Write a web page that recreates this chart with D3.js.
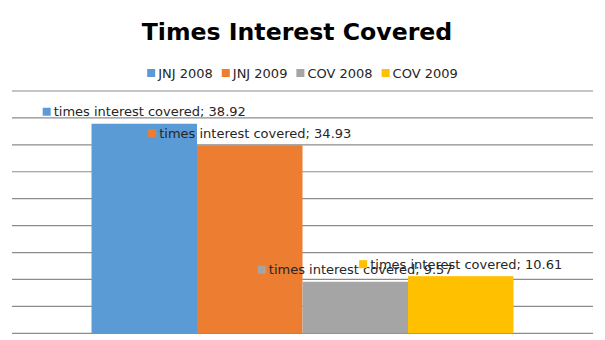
<!DOCTYPE html>
<html><head><meta charset="utf-8">
<script src="https://cdn.jsdelivr.net/npm/d3@7"></script>
<style>body{margin:0;background:#fff}svg{display:block}</style>
</head><body>
<script>
const seriesNames = ["JNJ 2008","JNJ 2009","COV 2008","COV 2009"];
const seriesColors = ["#5B9BD5","#ED7D31","#A5A5A5","#FFC000"];
const categories = ["times interest covered"];
const values = [38.92, 34.93, 9.57, 10.61];
const yTicks = [0,5,10,15,20,25,30,35,40,45];

(function(){
const W=605,H=340;
const svg=d3.select("body").append("svg").attr("width",W).attr("height",H);
const font="DejaVu Sans";
const pl=12,pr=593,pt=91,pb=333.3;

const y=d3.scaleLinear().domain([0,45]).range([pb,pt]);
const x0=d3.scaleBand().domain(categories).range([pl,pr]).paddingInner(0).paddingOuter(0.1884);
const x1=d3.scaleBand().domain(seriesNames).range([0,x0.bandwidth()]);

// gridlines
svg.append("g").selectAll("line").data(yTicks).join("line")
 .attr("x1",pl).attr("x2",pr).attr("y1",d=>y(d)).attr("y2",d=>y(d))
 .attr("stroke","#8c8c8c").attr("stroke-width",1.2);

// title
svg.append("text").attr("x",297).attr("y",40).attr("text-anchor","middle")
 .attr("font-family",font).attr("font-weight","bold").attr("font-size",23.6).attr("fill","#000")
 .text("Times Interest Covered");

// bars
const g=svg.append("g");
seriesNames.forEach((s,i)=>{
  const bx=x0(categories[0])+x1(s);
  g.append("rect").attr("x",bx).attr("width",x1.bandwidth())
   .attr("y",y(values[i])).attr("height",y(0)-y(values[i])).attr("fill",seriesColors[i]);
});

// data labels
seriesNames.forEach((s,i)=>{
  const cx=x0(categories[0])+x1(s)+x1.bandwidth()/2;
  const cy=y(values[i])-12;
  const lg=svg.append("g");
  const t=lg.append("text").attr("font-family",font).attr("font-size",13).attr("fill","#262626")
    .attr("y",cy+4.7).text(categories[0]+"; "+values[i].toFixed(2));
  const tw=t.node().getComputedTextLength();
  const total=8+3+tw;
  const sx=cx-total/2;
  lg.append("rect").attr("x",sx).attr("y",cy-4).attr("width",8).attr("height",8).attr("fill",seriesColors[i]);
  t.attr("x",sx+11);
});

// legend
const leg=svg.append("g");
let items=[];
seriesNames.forEach((s,i)=>{
  const t=leg.append("text").attr("font-family",font).attr("font-size",13).attr("fill","#262626")
    .attr("y",78).text(s);
  items.push({t,w:t.node().getComputedTextLength(),i});
});
const gap=9, keyW=8, kgap=3;
const totalW=d3.sum(items,d=>keyW+kgap+d.w)+gap*(items.length-1);
let lx=302.5-totalW/2;
items.forEach(d=>{
  leg.append("rect").attr("x",lx).attr("y",69).attr("width",keyW).attr("height",keyW).attr("fill",seriesColors[d.i]);
  d.t.attr("x",lx+keyW+kgap);
  lx+=keyW+kgap+d.w+gap;
});
})();
</script>
</body></html>
